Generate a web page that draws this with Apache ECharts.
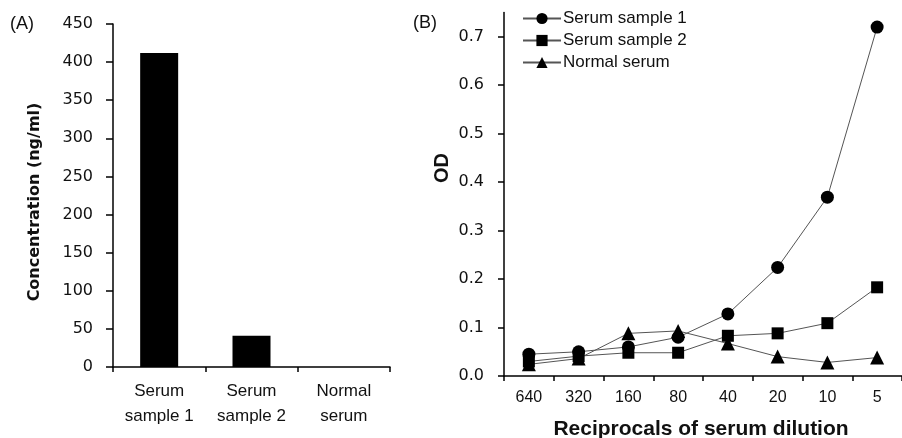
<!DOCTYPE html>
<html><head><meta charset="utf-8">
<script src="https://cdn.jsdelivr.net/npm/echarts@6/dist/echarts.min.js"></script>
<style>html,body{margin:0;padding:0;background:#fff}#c{width:902px;height:438px}</style>
</head><body><div id="c"></div>
<script>
const barCategories = ['Serum\nsample 1', 'Serum\nsample 2', 'Normal\nserum'];
const barValues = [412, 41, 0];
const barTicks = [0, 50, 100, 150, 200, 250, 300, 350, 400, 450];

const dilutions = ['640', '320', '160', '80', '40', '20', '10', '5'];
const serum1 = [0.045, 0.050, 0.060, 0.080, 0.128, 0.224, 0.369, 0.720];
const serum2 = [0.030, 0.041, 0.048, 0.048, 0.083, 0.088, 0.109, 0.183];
const normal = [0.024, 0.036, 0.088, 0.093, 0.067, 0.040, 0.028, 0.038];
const odTicks = [0, 0.1, 0.2, 0.3, 0.4, 0.5, 0.6, 0.7];

const chart = echarts.init(document.getElementById('c'));
const axisLine = {show: true, lineStyle: {color: '#000', width: 1.5}};
const lineColor = '#555';
chart.setOption({
  animation: false,
  backgroundColor: '#fff',
  grid: [
    {left: 113, top: 24, width: 277, height: 343},
    {left: 504, top: 12.5, height: 363.5, right: -8.4}
  ],
  legend: {
    orient: 'vertical', left: 522, top: 10, itemGap: 5, padding: 0,
    itemWidth: 38, itemHeight: 14,
    textStyle: {fontFamily: 'Liberation Sans', fontSize: 17, color: '#111', padding: [0,0,0,-3]},
    data: ['Serum sample 1', 'Serum sample 2', 'Normal serum']
  },
  xAxis: [
    {type: 'category', gridIndex: 0, data: barCategories, axisLine,
     axisTick: {show: true, length: 5, lineStyle: {color: '#000', width: 1.5}},
     axisLabel: {margin: 12, fontFamily: 'Liberation Sans', fontSize: 17, lineHeight: 25, color: '#111'}},
    {type: 'category', gridIndex: 1, data: dilutions, axisLine,
     axisTick: {show: true, length: 5, lineStyle: {color: '#000', width: 1.5}},
     axisLabel: {margin: 14, fontFamily: 'Liberation Sans', fontSize: 16, color: '#111'}}
  ],
  yAxis: [
    {type: 'value', gridIndex: 0, min: 0, max: 450, interval: 50, axisLine,
     splitLine: {show: false},
     axisTick: {show: true, length: 7, lineStyle: {color: '#000', width: 1.5}},
     axisLabel: {margin: 20, fontFamily: 'DejaVu Sans', fontSize: 16, color: '#111', customValues: barTicks}},
    {type: 'value', gridIndex: 1, min: 0, max: 0.75, axisLine,
     splitLine: {show: false},
     axisTick: {show: true, length: 6, lineStyle: {color: '#000', width: 1.5}, customValues: odTicks},
     axisLabel: {margin: 20, fontFamily: 'DejaVu Sans', fontSize: 16, color: '#111', customValues: odTicks,
       formatter: v => v.toFixed(1)}}
  ],
  series: [
    {type: 'bar', xAxisIndex: 0, yAxisIndex: 0, data: barValues, barWidth: 38,
     itemStyle: {color: '#000'}},
    {name: 'Serum sample 1', type: 'line', xAxisIndex: 1, yAxisIndex: 1, data: serum1,
     symbol: 'circle', symbolSize: 13, itemStyle: {color: '#000'},
     lineStyle: {color: lineColor, width: 1}},
    {name: 'Serum sample 2', type: 'line', xAxisIndex: 1, yAxisIndex: 1, data: serum2,
     symbol: 'rect', symbolSize: 12, itemStyle: {color: '#000'},
     lineStyle: {color: lineColor, width: 1}},
    {name: 'Normal serum', type: 'line', xAxisIndex: 1, yAxisIndex: 1, data: normal,
     symbol: 'triangle', symbolSize: 14, itemStyle: {color: '#000'},
     lineStyle: {color: lineColor, width: 1}}
  ],
  graphic: [
    {type: 'text', x: 10, y: 24, style: {text: '(A)', font: '18px "Liberation Sans"', fill: '#111', verticalAlign: 'middle'}},
    {type: 'text', x: 413, y: 23, style: {text: '(B)', font: '18px "Liberation Sans"', fill: '#111', verticalAlign: 'middle'}},
    {type: 'text', x: 35, y: 202, rotation: Math.PI / 2,
     style: {text: 'Concentration (ng/ml)', font: 'bold 16px "DejaVu Sans"', fill: '#111', align: 'center', verticalAlign: 'middle'}},
    {type: 'text', x: 442, y: 168, rotation: Math.PI / 2,
     style: {text: 'OD', font: 'bold 20px "Liberation Sans"', fill: '#111', align: 'center', verticalAlign: 'middle'}},
    {type: 'text', x: 701, y: 429,
     style: {text: 'Reciprocals of serum dilution', font: 'bold 21px "Liberation Sans"', fill: '#111', align: 'center', verticalAlign: 'middle'}}
  ]
});
</script></body></html>
